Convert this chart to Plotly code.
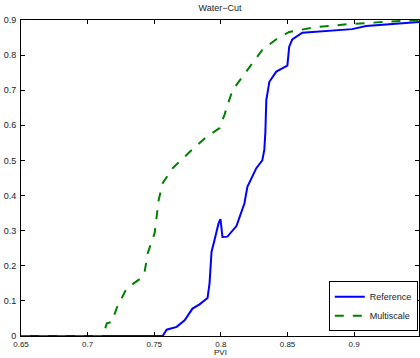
import plotly.graph_objects as go

ref_pvi = [0.65, 0.7563, 0.7593, 0.7615, 0.7668, 0.7728, 0.7787, 0.784, 0.790, 0.7915, 0.793, 0.7952,
           0.7982, 0.7997, 0.8004, 0.8012, 0.8049, 0.8117, 0.8177, 0.8199, 0.8266, 0.8311, 0.8326,
           0.8334, 0.8341, 0.8364, 0.8416, 0.8499, 0.8513, 0.8536, 0.8611, 0.8985, 0.909, 0.9487]
ref_wc = [0, 0, 0.018, 0.02, 0.026, 0.045, 0.078, 0.09, 0.108, 0.15, 0.24, 0.273,
          0.32, 0.333, 0.31, 0.282, 0.283, 0.313, 0.378, 0.425, 0.478, 0.50, 0.53,
          0.58, 0.672, 0.724, 0.753, 0.77, 0.824, 0.845, 0.864, 0.874, 0.883, 0.894]

ms_pvi = [0.65, 0.7114, 0.7144, 0.7181, 0.7219, 0.7293, 0.7391, 0.7428, 0.7451, 0.7488, 0.7503,
          0.7533, 0.7563, 0.7638, 0.7765, 0.7892, 0.799, 0.8012, 0.8027, 0.8087, 0.8214, 0.8311,
          0.8416, 0.8513, 0.8716, 0.8985, 0.9487]
ms_wc = [0, 0, 0.036, 0.04, 0.08, 0.136, 0.162, 0.183, 0.236, 0.273, 0.293,
         0.387, 0.435, 0.478, 0.524, 0.567, 0.592, 0.615, 0.63, 0.70, 0.766, 0.815,
         0.845, 0.866, 0.88, 0.889, 0.9]

x_ticks = [0.65, 0.7, 0.75, 0.8, 0.85, 0.9]
x_labels = ["0.65", "0.7", "0.75", "0.8", "0.85", "0.9"]
y_ticks = [0, 0.1, 0.2, 0.3, 0.4, 0.5, 0.6, 0.7, 0.8, 0.9]
y_labels = ["0", "0.1", "0.2", "0.3", "0.4", "0.5", "0.6", "0.7", "0.8", "0.9"]

fam = "Liberation Sans, Arial, sans-serif"
font = dict(family=fam, size=9, color="#222")
small = dict(family=fam, size=8, color="#222")

fig = go.Figure()
fig.add_trace(go.Scatter(x=ref_pvi, y=ref_wc, mode="lines", name="Reference",
                         line=dict(color="#0000ff", width=2)))
fig.add_trace(go.Scatter(x=ms_pvi, y=ms_wc, mode="lines", name="Multiscale",
                         line=dict(color="#008000", width=2, dash="dash")))

axis_common = dict(showgrid=False, zeroline=False, showline=True, linecolor="black",
                   linewidth=1, mirror="ticks", ticks="inside", ticklen=4,
                   tickcolor="black", automargin=False)

fig.update_layout(
    width=420, height=358,
    margin=dict(l=21, r=1, t=20, b=22, autoexpand=False),
    paper_bgcolor="white", plot_bgcolor="white",
    font=font,
    title=dict(text="Water\u2212Cut", x=0.5, xanchor="center", xref="paper",
               y=1, yanchor="top", pad=dict(t=5), font=font),
    xaxis=dict(range=[0.65, 0.9487], tickvals=x_ticks, ticktext=x_labels, ticklabelstandoff=0,
               tickfont=small, **axis_common),
    yaxis=dict(range=[0, 0.9], tickvals=y_ticks, ticktext=y_labels, ticklabelstandoff=2,
               tickfont=font, **axis_common),
    showlegend=True,
    legend=dict(x=0.997, y=0.015, xanchor="right", yanchor="bottom",
                bordercolor="black", borderwidth=1, bgcolor="white",
                font=font, tracegroupgap=0),
    annotations=[dict(text="PVI", x=0.5, xref="paper", y=0, yref="paper",
                      yanchor="bottom", yshift=-22, borderpad=0,
                      showarrow=False, font=small)],
)

fig.write_html("out.html", config={"displayModeBar": False},
               post_script="document.body.style.margin='0';document.body.style.overflow='hidden';")
